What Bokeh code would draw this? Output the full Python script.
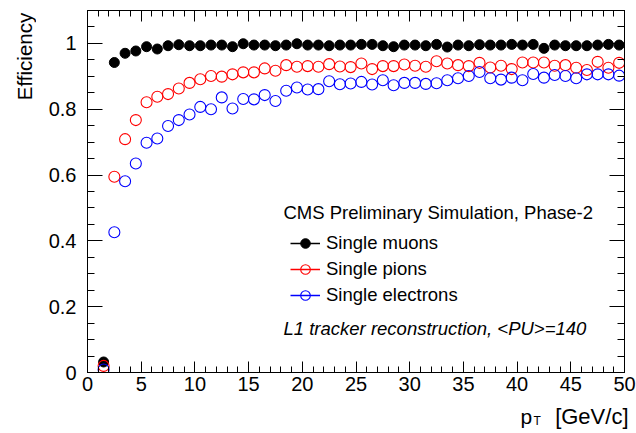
import math
from bokeh.plotting import figure
from bokeh.models import (Range1d, LinearAxis, SingleIntervalTicker, Label,
                          Legend, LegendItem, ColumnDataSource)
from bokeh.layouts import column, row
from bokeh.embed import file_html
from bokeh.resources import INLINE

# ---- data ----
pt = [1.5, 2.5, 3.5, 4.5, 5.5, 6.5, 7.5, 8.5, 9.5, 10.5,
      11.5, 12.5, 13.5, 14.5, 15.5, 16.5, 17.5, 18.5, 19.5, 20.5,
      21.5, 22.5, 23.5, 24.5, 25.5, 26.5, 27.5, 28.5, 29.5, 30.5,
      31.5, 32.5, 33.5, 34.5, 35.5, 36.5, 37.5, 38.5, 39.5, 40.5,
      41.5, 42.5, 43.5, 44.5, 45.5, 46.5, 47.5, 48.5, 49.5]

eff_muons = [0.032, 0.942, 0.970, 0.977, 0.990, 0.983, 0.993, 0.996, 0.993, 0.993,
             0.995, 0.995, 0.990, 0.999, 0.995, 0.995, 0.993, 0.995, 0.999, 0.995,
             0.995, 0.993, 0.995, 0.995, 0.997, 0.997, 0.993, 0.990, 0.995, 0.995,
             0.993, 0.997, 0.989, 0.995, 0.993, 0.996, 0.995, 0.995, 0.997, 0.995,
             0.997, 0.985, 0.995, 0.993, 0.993, 0.993, 0.995, 0.997, 0.995]

eff_pions = [0.020, 0.595, 0.709, 0.767, 0.821, 0.838, 0.846, 0.863, 0.880, 0.891,
             0.901, 0.899, 0.906, 0.912, 0.912, 0.924, 0.917, 0.934, 0.929, 0.931,
             0.929, 0.937, 0.930, 0.928, 0.939, 0.922, 0.931, 0.931, 0.936, 0.932,
             0.929, 0.946, 0.939, 0.934, 0.931, 0.941, 0.927, 0.932, 0.922, 0.942,
             0.942, 0.942, 0.932, 0.934, 0.926, 0.919, 0.944, 0.926, 0.941]

eff_electrons = [0.009, 0.426, 0.581, 0.635, 0.698, 0.711, 0.749, 0.767, 0.784, 0.807,
                 0.800, 0.836, 0.802, 0.831, 0.830, 0.843, 0.825, 0.856, 0.866, 0.860,
                 0.861, 0.885, 0.876, 0.878, 0.883, 0.875, 0.888, 0.873, 0.880, 0.880,
                 0.877, 0.879, 0.888, 0.894, 0.901, 0.913, 0.894, 0.890, 0.896, 0.888,
                 0.907, 0.896, 0.904, 0.901, 0.894, 0.906, 0.906, 0.906, 0.902]

series_names = ["Single muons", "Single pions", "Single electrons"]
header_text = "CMS Preliminary Simulation, Phase-2"
note_text = "L1 tracker reconstruction, <PU>=140"
x_title_main = "p"
x_title_sub = "T"
x_title_unit = "[GeV/c]"
y_title = "Efficiency"

FONT = "Liberation Sans"
LEFT_W = 36
BOTTOM_H = 36
W, H = 636, 433
FRAME_TOP, FRAME_BOTTOM = 10, 372   # canvas rows of the plot frame


def strip(width, height):
    f = figure(width=width, height=height, output_backend="svg", toolbar_location=None,
               x_range=Range1d(0, 1), y_range=Range1d(0, 1),
               x_axis_type=None, y_axis_type=None, min_border=0)
    f.outline_line_color = None
    f.background_fill_color = "white"
    f.border_fill_color = "white"
    return f


p = figure(width=W - LEFT_W, height=H - BOTTOM_H, output_backend="svg",
           toolbar_location=None,
           x_range=Range1d(0, 50), y_range=Range1d(0, 1.1),
           x_axis_type=None, y_axis_type=None,
           min_border_left=87 - LEFT_W, min_border_right=12,
           min_border_top=FRAME_TOP, min_border_bottom=(H - BOTTOM_H) - FRAME_BOTTOM)
p.outline_line_color = "black"
p.outline_line_width = 1
p.background_fill_color = "white"
p.border_fill_color = "white"


def make_axis(interval, nminor, tick_in, minor_in, labels, standoff):
    ax = LinearAxis(ticker=SingleIntervalTicker(interval=interval, num_minor_ticks=nminor),
                    major_tick_in=tick_in, major_tick_out=0,
                    minor_tick_in=minor_in, minor_tick_out=0,
                    axis_line_color="black", major_tick_line_color="black",
                    minor_tick_line_color="black",
                    major_label_text_font=FONT, major_label_text_font_size="20px",
                    major_label_text_color="black", major_label_standoff=standoff)
    if not labels:
        ax.major_label_text_font_size = "1px"
        ax.major_label_text_color = None
        ax.major_label_standoff = 0
    return ax


xb = make_axis(5, 5, 11, 6, True, 4)
xt = make_axis(5, 5, 11, 6, False, 0)
yl = make_axis(0.2, 4, 15, 7, True, 11)
yl.major_label_overrides = {0: "0", 1: "1"}
yr = make_axis(0.2, 4, 15, 7, False, 0)
p.add_layout(xb, "below")
p.add_layout(xt, "above")
p.add_layout(yl, "left")
p.add_layout(yr, "right")

src = ColumnDataSource(dict(x=pt, mu=eff_muons, pi=eff_pions, el=eff_electrons))

r_mu = p.scatter("x", "mu", source=src, marker="circle", size=10,
                 fill_color="black", line_color="black")
r_pi = p.scatter("x", "pi", source=src, marker="circle", size=11,
                 fill_color=None, line_color="#ff0000", line_width=1.1)
r_el = p.scatter("x", "el", source=src, marker="circle", size=11,
                 fill_color=None, line_color="#0000ff", line_width=1.1)

# legend-only line samples (no drawable points)
legend_src = ColumnDataSource(dict(x=[math.nan], y=[math.nan]))
l_mu = p.line("x", "y", source=legend_src, line_color="black", line_width=1.5)
l_pi = p.line("x", "y", source=legend_src, line_color="#ff0000", line_width=1.5)
l_el = p.line("x", "y", source=legend_src, line_color="#0000ff", line_width=1.5)

legend = Legend(items=[LegendItem(label=series_names[0], renderers=[l_mu, r_mu]),
                       LegendItem(label=series_names[1], renderers=[l_pi, r_pi]),
                       LegendItem(label=series_names[2], renderers=[l_el, r_el])],
                location=(203, 65), padding=0, margin=0, spacing=2,
                glyph_width=30, glyph_height=24, label_standoff=6,
                label_text_font=FONT, label_text_font_size="18.5px",
                label_text_color="black",
                border_line_color=None, background_fill_alpha=0)
p.add_layout(legend)

p.add_layout(Label(x=196, y=160, x_units="screen", y_units="screen", text=header_text,
                   text_font=FONT, text_font_size="18.5px", text_baseline="middle",
                   text_color="black"))
p.add_layout(Label(x=196, y=44, x_units="screen", y_units="screen", text=note_text,
                   text_font=FONT, text_font_size="18.5px", text_font_style="italic",
                   text_baseline="middle", text_color="black"))

# y-axis title strip (its frame is aligned with the main frame: rows 10..372)
left = strip(LEFT_W, H - BOTTOM_H)
left.add_layout(Label(x=24, y=FRAME_BOTTOM - 56, x_units="screen", y_units="screen",
                      text=y_title, angle=math.pi / 2, text_align="center",
                      text_baseline="middle", text_font=FONT, text_font_size="20.5px",
                      text_color="black"))

# x-axis title strip
bottom = strip(W, BOTTOM_H)
base = BOTTOM_H - (416 - (H - BOTTOM_H))
bottom.add_layout(Label(x=628, y=base, x_units="screen", y_units="screen",
                        text=x_title_unit, text_align="right", text_baseline="alphabetic",
                        text_font=FONT, text_font_size="22px", text_color="black"))
bottom.add_layout(Label(x=520, y=base, x_units="screen", y_units="screen",
                        text=x_title_main, text_align="left", text_baseline="alphabetic",
                        text_font=FONT, text_font_size="21px", text_color="black"))
bottom.add_layout(Label(x=533, y=base - 4, x_units="screen", y_units="screen",
                        text=x_title_sub, text_align="left", text_baseline="alphabetic",
                        text_font=FONT, text_font_size="12px", text_color="black"))

layout = column(row(left, p, spacing=0), bottom, spacing=0)

open("out.html", "w").write(file_html(layout, INLINE))
